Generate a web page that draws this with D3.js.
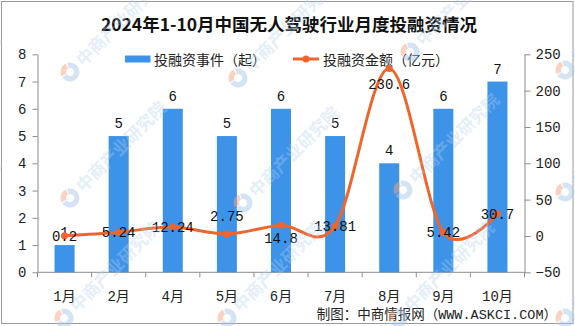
<!DOCTYPE html>
<html>
<head>
<meta charset="utf-8">
<script src="https://cdn.jsdelivr.net/npm/d3@7/dist/d3.min.js"></script>
<style>
  html, body { margin: 0; padding: 0; background: #fff; }
  svg { display: block; }
</style>
</head>
<body>
<svg id="chart" width="575" height="326"></svg>
<script>
// Monthly investment data, 2024
const months = ["1月", "2月", "4月", "5月", "6月", "7月", "8月", "9月", "10月"];
const eventCounts = [1, 5, 6, 5, 6, 5, 4, 6, 7];                          // 投融资事件（起）
const amounts = [0.2, 5.24, 12.24, 2.75, 14.8, 13.81, 230.6, 5.42, 30.7];  // 投融资金额（亿元）
const countTicks = [0, 1, 2, 3, 4, 5, 6, 7, 8];
const amountTicks = [-50, 0, 50, 100, 150, 200, 250];

const titleText = "2024年1-10月中国无人驾驶行业月度投融资情况";
const sourceText = "制图：中商情报网（WWW.ASKCI.COM）";

const W = 575, H = 326;
const plot = { left: 37.5, right: 524.5, top: 54.3, bottom: 272.3 };
const barColor = "#3d93e8";
const lineColor = "#f0652b";
const axisColor = "#8c8c8c";
const numFont = "'Liberation Mono', 'Noto Sans CJK SC', monospace";
const cjkFont = "'Noto Sans CJK SC', sans-serif";

// vertical nudge of a few amount labels so they clear the line
const amountLabelDy = [0, 0, 0, -18, 13, 0, 16, 0, 0];

const svg = d3.select("#chart");

// outer frame
svg.append("rect")
  .attr("x", 1.5).attr("y", 1.5).attr("width", W - 3.5).attr("height", H - 4)
  .attr("fill", "#fff").attr("stroke", "#9a9a9a").attr("stroke-width", 1);

const x = d3.scaleBand().domain(months).range([plot.left, plot.right]).padding(0);
const yL = d3.scaleLinear().domain([0, 8]).range([plot.bottom, plot.top]);
const yR = d3.scaleLinear().domain([-50, 250]).range([plot.bottom, plot.top]);
const barW = x.bandwidth() * 0.37;

// title
svg.append("text")
  .attr("x", 289).attr("y", 31)
  .attr("text-anchor", "middle")
  .attr("font-family", cjkFont).attr("font-weight", "bold").attr("font-size", 17.5)
  .attr("fill", "#111")
  .text(titleText);

// legend
const lg = svg.append("g");
lg.append("rect").attr("x", 125).attr("y", 55.5).attr("width", 25.5).attr("height", 7).attr("fill", barColor);
lg.append("text").attr("x", 154).attr("y", 64.5)
  .attr("font-family", cjkFont).attr("font-size", 14).attr("fill", "#222")
  .text("投融资事件（起）");
lg.append("line").attr("x1", 293).attr("x2", 319).attr("y1", 59).attr("y2", 59)
  .attr("stroke", lineColor).attr("stroke-width", 3);
lg.append("circle").attr("cx", 306).attr("cy", 59).attr("r", 3.5).attr("fill", lineColor);
lg.append("text").attr("x", 323).attr("y", 64.5)
  .attr("font-family", cjkFont).attr("font-size", 14).attr("fill", "#222")
  .text("投融资金额（亿元）");

// axes
const styleAxis = g => {
  g.selectAll("path.domain").attr("stroke", axisColor);
  g.selectAll(".tick line").attr("stroke", axisColor);
  g.selectAll(".tick text").attr("fill", "#222").attr("font-family", numFont).attr("font-size", 14);
};

svg.append("g")
  .attr("transform", `translate(${plot.left},0)`)
  .call(d3.axisLeft(yL).tickValues(countTicks).tickSize(5).tickSizeOuter(0).tickPadding(6))
  .call(styleAxis);

svg.append("g")
  .attr("transform", `translate(${plot.right},0)`)
  .call(d3.axisRight(yR).tickValues(amountTicks).tickSize(6).tickSizeOuter(0).tickPadding(5))
  .call(styleAxis);

// category axis: ticks on band boundaries
const xAxisG = svg.append("g").attr("transform", `translate(0,${plot.bottom})`);
xAxisG.append("line").attr("x1", plot.left).attr("x2", plot.right)
  .attr("stroke", axisColor);
const bounds = months.map(m => x(m)).concat([plot.right]);
xAxisG.selectAll("line.tk").data(bounds).join("line").attr("class", "tk")
  .attr("x1", d => d).attr("x2", d => d).attr("y1", 0).attr("y2", 5)
  .attr("stroke", axisColor);
xAxisG.selectAll("text").data(months).join("text")
  .attr("x", d => x(d) + x.bandwidth() / 2).attr("y", 29)
  .attr("text-anchor", "middle")
  .attr("font-family", numFont).attr("font-size", 14).attr("fill", "#222")
  .text(d => d);

// bars
svg.append("g").selectAll("rect").data(months).join("rect")
  .attr("x", (d) => x(d) + (x.bandwidth() - barW) / 2)
  .attr("y", (d, i) => yL(eventCounts[i]))
  .attr("width", barW)
  .attr("height", (d, i) => yL(0) - yL(eventCounts[i]))
  .attr("fill", barColor);

// bar value labels
svg.append("g").selectAll("text").data(months).join("text")
  .attr("x", d => x(d) + x.bandwidth() / 2)
  .attr("y", (d, i) => yL(eventCounts[i]) - 8)
  .attr("text-anchor", "middle")
  .attr("font-family", numFont).attr("font-size", 14).attr("fill", "#111")
  .text((d, i) => eventCounts[i]);

// amount line
const pts = months.map((m, i) => [x(m) + x.bandwidth() / 2, yR(amounts[i])]);
svg.append("path")
  .attr("d", d3.line().curve(d3.curveCardinal.tension(0))(pts))
  .attr("fill", "none").attr("stroke", lineColor).attr("stroke-width", 3)
  .attr("stroke-linejoin", "round");
svg.append("g").selectAll("circle").data(pts).join("circle")
  .attr("cx", d => d[0]).attr("cy", d => d[1]).attr("r", 3.5).attr("fill", lineColor);

// amount labels
svg.append("g").selectAll("text").data(months).join("text")
  .attr("x", d => x(d) + x.bandwidth() / 2)
  .attr("y", (d, i) => yR(amounts[i]) + 5 + amountLabelDy[i])
  .attr("text-anchor", "middle")
  .attr("font-family", numFont).attr("font-size", 14).attr("fill", "#111")
  .text((d, i) => amounts[i]);

// source line
svg.append("text")
  .attr("x", 557).attr("y", 319)
  .attr("text-anchor", "end")
  .attr("font-family", numFont).attr("font-size", 13.5).attr("fill", "#222")
  .text(sourceText);

// brand watermark, tiled diagonally over the chart
const marks = [[70, 72], [70, 198], [64, 318], [238, 78], [243, 203], [227, 318],
               [410, 52], [403, 190], [398, 318], [565, 70], [565, 192], [565, 318], [-95, 130], [-95, 255]];
const wm = svg.append("g").attr("pointer-events", "none");
marks.forEach(([mx, my]) => {
  const g = wm.append("g").attr("transform", `translate(${mx},${my}) rotate(-45)`);
  g.append("path")
    .attr("d", d3.arc().innerRadius(4).outerRadius(9.5).startAngle(Math.PI * 0.15).endAngle(Math.PI * 1.55)())
    .attr("fill", "#a9c9ec").attr("opacity", 0.5);
  g.append("path")
    .attr("d", d3.arc().innerRadius(4).outerRadius(9.5).startAngle(Math.PI * 1.6).endAngle(Math.PI * 2.1)())
    .attr("fill", "#f4a882").attr("opacity", 0.5);
  g.append("text")
    .attr("x", 13).attr("y", 6)
    .attr("font-family", cjkFont).attr("font-weight", "bold").attr("font-size", 17)
    .attr("fill", "#b4d0ee").attr("opacity", 0.35)
    .text("中商产业研究院");
});
</script>
</body>
</html>
